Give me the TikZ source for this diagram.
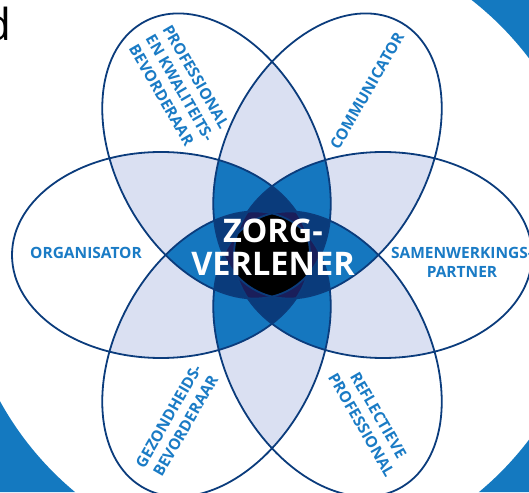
\documentclass[tikz,border=0pt]{standalone}
\usepackage{fontspec}
\setmainfont{Open Sans}
\usetikzlibrary{positioning}
\definecolor{cornerblue}{HTML}{1479C0}
\definecolor{petalline}{HTML}{0B3C7C}
\definecolor{lavender}{HTML}{DAE0F2}
\definecolor{midblue}{HTML}{1577BF}
\definecolor{navy}{HTML}{0A3B7B}
\definecolor{indigo}{HTML}{1A1E5A}
\definecolor{labelblue}{HTML}{1A7BC5}
\tikzset{petal/.style = {draw=petalline, line width=1.8}}
\tikzset{lbl/.style = {text=labelblue, inner sep=0, font=\bfseries\fontsize{15.5}{19.5}\selectfont}}
\newcommand{\pd}{111}
\newcommand{\pa}{149}
\newcommand{\pb}{100}

\begin{document}
\begin{tikzpicture}[x=1pt, y=1pt]
    \useasboundingbox (0,0) rectangle (529,492);
    \begin{scope}
      \clip (0,372) -- (0,0) -- (529,0) -- (529,492) -- (300,492) -- cycle;
      \fill [cornerblue, even odd rule] (-100,-100) rectangle (629,592) (277,243) circle [radius=316];
    \end{scope}
    \node [anchor=base east, inner sep=0, font=\fontsize{44}{44}\selectfont] (title) at (12,451) {d};

    \begin{scope}[shift={(272,237)}, yscale=1.03]
      % shade by how many petals overlap
      \foreach \lev/\col in {2/lavender, 3/midblue, 4/navy, 5/indigo, 6/black} {
        \foreach \m in {3,...,63} {
          \pgfmathtruncatemacro\cnt{mod(\m,2)+mod(floor(\m/2),2)+mod(floor(\m/4),2)+mod(floor(\m/8),2)+mod(floor(\m/16),2)+mod(floor(\m/32),2)}
          \ifnum\cnt=\lev
            \begin{scope}
              \foreach \i in {0,...,5} {
                \pgfmathtruncatemacro\bit{mod(floor(\m/2^\i),2)}
                \ifnum\bit=1 \clip [rotate=60*\i] (\pd,0) ellipse [x radius=\pa, y radius=\pb]; \fi
              }
              \fill [\col] (-300,-300) rectangle (300,300);
            \end{scope}
          \fi
        }
      }
      \foreach \i in {0,...,5}
        \draw [petal, rotate=60*\i] (\pd,0) ellipse [x radius=\pa, y radius=\pb];
    \end{scope}

    \node [text=white, inner sep=0, align=center, font=\bfseries\fontsize{32.5}{33}\selectfont] (zorg) at (273,245) {ZORG-\\VERLENER};
    \node [lbl] (org) at (86,239) {ORGANISATOR};
    \node [lbl, align=center] (samen) at (462,229.5) {SAMENWERKINGS-\\PARTNER};
    \node [lbl, rotate=60] (comm) at (367,401) {COMMUNICATOR};
    \node [lbl, rotate=-60, align=left] (prof) at (180,404) {PROFESSIONAL\\EN KWALITEITS-\\BEVORDERAAR};
    \node [lbl, rotate=60, align=center] (gezond) at (177,71) {GEZONDHEIDS-\\BEVORDERAAR};
    \node [lbl, rotate=-60, align=center] (reflect) at (370,72) {REFLECTIEVE\\PROFESSIONAL};
\end{tikzpicture}
\end{document}
